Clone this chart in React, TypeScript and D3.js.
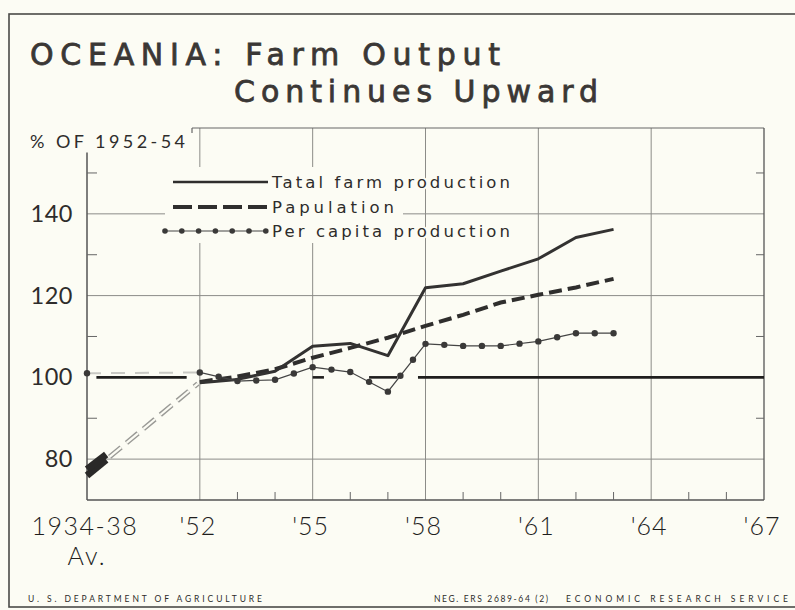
import React from "react";
import * as d3 from "d3";

// ---- data ----
const years = [1952, 1953, 1954, 1955, 1956, 1957, 1958, 1959, 1960, 1961, 1962, 1963];
const totalProduction = [98.7, 99.5, 101.5, 107.6, 108.3, 105.3, 121.9, 122.9, 126, 129, 134.2, 136.2];
const population = [98.9, 100.2, 102, 104.8, 107.2, 109.7, 112.6, 115.3, 118.3, 120.2, 122, 124.1];
const perCapita = [101.2, 99.1, 99.4, 102.5, 101.3, 96.5, 108.2, 107.7, 107.7, 108.8, 110.8, 110.8];

// 1934-38 average, drawn at the left axis
const baseYear = 1949;
const baseTotal = 76;
const basePopulation = 77.5;
const basePerCapita = 101;

const xTickYears = [1949, 1952, 1955, 1958, 1961, 1964, 1967];
const xTickLabels = ["1934-38", "'52", "'55", "'58", "'61", "'64", "'67"];
const gridYears = [1952, 1955, 1958, 1961, 1964];
const yMajor = [80, 100, 120, 140];
const yMinor = [90, 110, 130, 150];
const refLineSegments = [
  [1949.25, 1951.65],
  [1955, 1955.3],
  [1956.5, 1957.25],
  [1957.8, 1967],
];

const legendLabels = ["Tatal farm production", "Papulation", "Per capita production"];

const BG = "#fcfcf4";
const INK = "#2e2c2b";
const GRID = "#8c8c88";

function App() {
  const width = 795;
  const height = 610;

  const x = d3.scaleLinear().domain([1949, 1967]).range([87, 764]);
  const y = d3.scaleLinear().domain([70, 161]).range([500, 128]);

  const lineGen = d3
    .line<number>()
    .x((d, i) => x(years[i]))
    .y((d) => y(d));

  // dots along the per capita line, evenly spread on each segment
  const dots: [number, number][] = [];
  perCapita.forEach((v, i) => {
    const x0 = x(years[i]);
    const y0 = y(v);
    if (i === perCapita.length - 1) {
      dots.push([x0, y0]);
      return;
    }
    const x1 = x(years[i + 1]);
    const y1 = y(perCapita[i + 1]);
    const len = Math.hypot(x1 - x0, y1 - y0);
    const n = Math.max(1, Math.round(len / 19));
    for (let k = 0; k < n; k++) {
      dots.push([x0 + ((x1 - x0) * k) / n, y0 + ((y1 - y0) * k) / n]);
    }
  });

  // connector 1934-38 -> '52
  const cx0 = x(baseYear);
  const cx1 = x(years[0]);
  const stub = (v0: number, v1: number) => {
    const t = 0.17;
    return `M${cx0},${y(v0)}L${cx0 + (cx1 - cx0) * t},${y(v0) + (y(v1) - y(v0)) * t}`;
  };
  const tConn = 0.2;
  const connPath = `M${cx0 + (cx1 - cx0) * tConn},${y(baseTotal) + (y(totalProduction[0]) - y(baseTotal)) * tConn}L${cx1 - 2},${y(totalProduction[0]) + 1}`;

  const minorYears = d3.range(1953, 1967).filter((yr) => !gridYears.includes(yr));

  const font = "Lato, 'DejaVu Sans', sans-serif";
  const wideFont = "'DejaVu Sans', sans-serif";

  return (
    <svg
      width={width}
      height={height}
      style={{ position: "absolute", left: 0, top: 0, display: "block", background: BG }}
      fontFamily={font}
    >
      <rect x={0} y={0} width={width} height={height} fill={BG} />
      {/* outer frame */}
      <rect x={9} y={14} width={800} height={593} fill="none" stroke="#4a4a48" strokeWidth={1.6} />

      {/* title */}
      <g fontFamily={wideFont} fontSize={30} fill="#3a3735" stroke="#3a3735" strokeWidth={0.8}>
        <text x={30} y={65} textLength={470} lengthAdjust="spacing">
          OCEANIA: Farm Output
        </text>
        <text x={234} y={102} textLength={364} lengthAdjust="spacing">
          Continues Upward
        </text>
      </g>

      {/* y axis title */}
      <text x={30} y={148} fontSize={18} fill={INK} textLength={155} lengthAdjust="spacing">
        % OF 1952-54
      </text>

      {/* gridlines */}
      {gridYears.map((yr) => (
        <line key={"vg" + yr} x1={x(yr)} x2={x(yr)} y1={y(161)} y2={y(70)} stroke={GRID} strokeWidth={1} />
      ))}
      {yMajor
        .filter((v) => v !== 100)
        .map((v) => (
          <line key={"hg" + v} x1={x(1949)} x2={x(1967)} y1={y(v)} y2={y(v)} stroke={GRID} strokeWidth={1} />
        ))}

      {/* frame of plot */}
      <line x1={192} x2={x(1967)} y1={y(161)} y2={y(161)} stroke="#666" strokeWidth={1.2} />
      <line x1={192} x2={192} y1={y(161)} y2={y(161) + 5} stroke="#666" strokeWidth={1.2} />
      <line x1={x(1949)} x2={x(1949)} y1={y(155)} y2={y(70)} stroke="#555" strokeWidth={1.5} />
      <line x1={x(1967)} x2={x(1967)} y1={y(161)} y2={y(70)} stroke="#555" strokeWidth={1.3} />
      <line x1={x(1949)} x2={x(1967)} y1={y(70)} y2={y(70)} stroke="#555" strokeWidth={1.6} />

      {/* minor ticks */}
      {yMinor.map((v) => (
        <g key={"mt" + v}>
          <line x1={x(1949)} x2={x(1949) + 10} y1={y(v)} y2={y(v)} stroke="#666" strokeWidth={1} />
          <line x1={x(1967) - 8} x2={x(1967)} y1={y(v)} y2={y(v)} stroke="#666" strokeWidth={1} />
        </g>
      ))}
      {minorYears.map((yr) => (
        <line key={"xt" + yr} x1={x(yr)} x2={x(yr)} y1={y(70)} y2={y(70) - 8} stroke="#666" strokeWidth={1} />
      ))}

      {/* legend box hides the grid behind it */}
      <rect x={165} y={167} width={238} height={76} fill={BG} />

      {/* 100 reference line */}
      {refLineSegments.map(([a, b], i) => (
        <line key={"ref" + i} x1={x(a)} x2={x(b)} y1={y(100)} y2={y(100)} stroke="#1f1e1d" strokeWidth={2.6} />
      ))}

      {/* y labels */}
      {yMajor.map((v) => (
        <text key={"yl" + v} x={73} y={y(v) + 8} fontSize={23.5} fill={INK} textAnchor="end" letterSpacing={0.5}>
          {v}
        </text>
      ))}

      {/* x labels */}
      {xTickYears.map((yr, i) => (
        <text
          key={"xl" + yr}
          x={x(yr) - 2}
          y={535}
          fontSize={25}
          fontWeight={300}
          fill="#1f1e1d"
          textAnchor="middle"
          letterSpacing={i === 0 ? 1.5 : 1}
        >
          {xTickLabels[i]}
        </text>
      ))}
      <text x={x(baseYear)} y={565} fontSize={25} fontWeight={300} fill="#1f1e1d" textAnchor="middle" letterSpacing={2}>
        Av.
      </text>

      {/* connectors 1934-38 to '52 */}
      <path d={connPath} stroke="#9a9a96" strokeWidth={5} fill="none" strokeDasharray="15 7" />
      <path d={connPath} stroke={BG} strokeWidth={2.2} fill="none" strokeDasharray="15 7" />
      <path d={stub(baseTotal, totalProduction[0])} stroke="#2a2928" strokeWidth={7} fill="none" />
      <path d={stub(basePopulation, population[0])} stroke="#2a2928" strokeWidth={7} fill="none" />
      <line
        x1={cx0}
        x2={cx1}
        y1={y(basePerCapita)}
        y2={y(perCapita[0])}
        stroke="#c9c9c4"
        strokeWidth={2}
        strokeDasharray="14 10"
      />
      <circle cx={cx0} cy={y(basePerCapita)} r={3.2} fill="#3a3938" />

      {/* series */}
      <path d={lineGen(population) || ""} fill="none" stroke="#2f2e2d" strokeWidth={4} strokeDasharray="13 6" />
      <path d={lineGen(totalProduction) || ""} fill="none" stroke="#333231" strokeWidth={3} strokeLinejoin="round" />
      <path d={lineGen(perCapita) || ""} fill="none" stroke="#444" strokeWidth={1.2} />
      {dots.map(([dx, dy], i) => (
        <circle key={"d" + i} cx={dx} cy={dy} r={3.2} fill="#3a3938" />
      ))}

      {/* legend */}
      <line x1={173} x2={268} y1={182} y2={182} stroke="#2f2e2d" strokeWidth={2.5} />
      <line x1={173} x2={268} y1={207} y2={207} stroke="#2f2e2d" strokeWidth={4} strokeDasharray="19 6" />
      <line x1={165} x2={266} y1={231} y2={231} stroke="#444" strokeWidth={1.2} />
      {d3.range(0, 7).map((k) => (
        <circle key={"ld" + k} cx={165 + k * 16.8} cy={231} r={2.8} fill="#3a3938" />
      ))}
      {legendLabels.map((t, i) => (
        <text
          key={"lg" + i}
          x={272}
          y={188 + i * 24.5}
          fontFamily={wideFont}
          fontSize={16.5}
          fill={INK}
          stroke={BG}
          strokeWidth={4}
          paintOrder="stroke"
          textLength={i === 1 ? 122 : 238}
          lengthAdjust="spacing"
        >
          {t}
        </text>
      ))}

      {/* footer */}
      <text x={28} y={602} fontSize={8.5} fill={INK} textLength={234} lengthAdjust="spacing">
        U. S. DEPARTMENT OF AGRICULTURE
      </text>
      <text x={434} y={602} fontSize={8.5} fill={INK} textLength={114} lengthAdjust="spacing">
        NEG. ERS 2689-64 (2)
      </text>
      <text x={566} y={602} fontSize={8.5} fill={INK} textLength={222} lengthAdjust="spacing">
        ECONOMIC RESEARCH SERVICE
      </text>
    </svg>
  );
}

export default App;
